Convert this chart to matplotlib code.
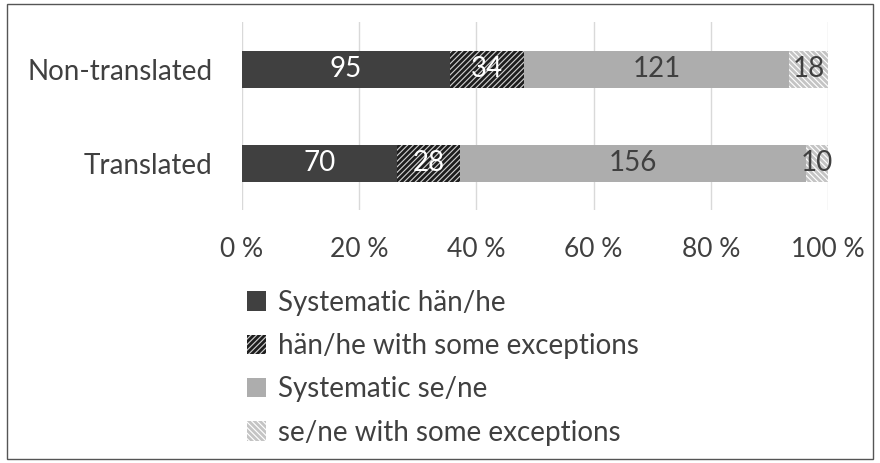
import matplotlib.pyplot as plt
from matplotlib.patches import Rectangle
import numpy as np

plt.rcParams['font.family'] = ['Lato', 'DejaVu Sans']
plt.rcParams['hatch.linewidth'] = 2.0

groups = ['Translated', 'Non-translated']
series = ['Systematic hän/he', 'hän/he with some exceptions',
          'Systematic se/ne', 'se/ne with some exceptions']
counts = np.array([
    [70, 28, 156, 10],   # Translated
    [95, 34, 121, 18],   # Non-translated
])
xticks = [0, 20, 40, 60, 80, 100]

# style per series: face, hatch, hatch colour, label colour
styles = [
    ('#404040', None, '#404040', 'white'),
    ('#d0d0d0', '//////', '#1e1e1e', 'white'),
    ('#adadad', None, '#adadad', '#404040'),
    ('white', '\\\\\\\\\\\\', '#c4c4c4', '#404040'),
]

pct = counts / counts.sum(axis=1, keepdims=True) * 100

fig = plt.figure(figsize=(8.8, 4.63), dpi=100)
ax = fig.add_axes([0.275, 0.546, 0.666, 0.406])

y = np.arange(len(groups))
left = np.zeros(len(groups))
for i in range(len(series)):
    face, hatch, hc, tc = styles[i]
    bars = ax.barh(y, pct[:, i], left=left, height=0.39, color=face,
                   hatch=hatch, edgecolor=hc, linewidth=0, label=series[i], zorder=2)
    for j, b in enumerate(bars):
        ax.text(left[j] + pct[j, i] / 2, y[j], str(counts[j, i]), ha='center',
                va='center', color=tc, fontsize=20, zorder=3)
    left += pct[:, i]

ax.set_xlim(0, 100)
ax.set_ylim(-0.5, 1.5)
ax.set_xticks(xticks)
ax.set_xticklabels([f'{t} %' for t in xticks])
ax.set_yticks(y)
ax.set_yticklabels(groups)
ax.tick_params(axis='x', length=0, pad=19, labelsize=19, colors='#404040')
ax.tick_params(axis='y', length=0, pad=21, labelsize=20, colors='#404040')
ax.grid(axis='x', color='#d9d9d9', linewidth=1, zorder=0)
for s in ax.spines.values():
    s.set_visible(False)

handles, labels = ax.get_legend_handles_labels()
fig.legend(handles, labels, loc='upper left', bbox_to_anchor=(0.268, 0.398),
           frameon=False, fontsize=20, labelcolor='#404040',
           handlelength=0.7, handleheight=0.7, handletextpad=0.4,
           labelspacing=0.62, borderaxespad=0)

fig.patches.append(Rectangle((0.008, 0.008), 0.984, 0.984, transform=fig.transFigure,
                             fill=False, edgecolor='#555555', linewidth=1))

fig.savefig('out.png', dpi=100)
